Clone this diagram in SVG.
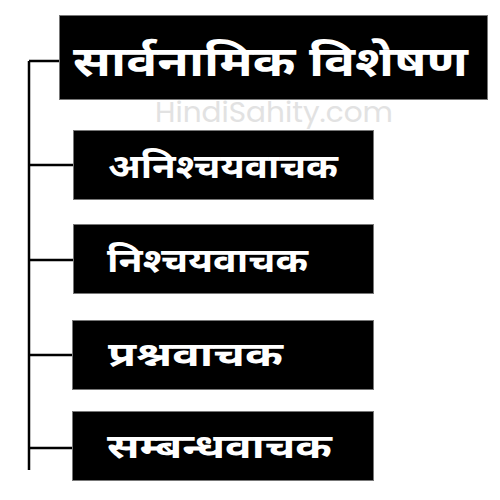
<svg xmlns="http://www.w3.org/2000/svg" width="500" height="500" viewBox="0 0 500 500">
<style>
.box{fill:#000;stroke:#777;stroke-width:1}
.lbl{fill:#fff;font-family:"Noto Sans","Noto Sans Devanagari",sans-serif;font-weight:700}
.wire{stroke:#000;stroke-width:2.5;fill:none}
</style>
<rect width="500" height="500" fill="#fff"/>
<g id="connectors">
<path class="wire" d="M29 61V470M29 61H60M29 165H74M29 260H74M29 355H73M29 448H73"/>
</g>
<text x="155" y="122" font-family="Poppins,'Noto Sans',sans-serif" font-size="28" fill="#e2e2e2" textLength="238" lengthAdjust="spacingAndGlyphs">HindiSahity.com</text>
<g id="n1">
<rect class="box" x="59.5" y="15.5" width="428" height="84"/>
<text class="lbl" x="73" y="76" font-size="42" textLength="395" lengthAdjust="spacingAndGlyphs">सार्वनामिक विशेषण</text>
</g>
<g id="n2">
<rect class="box" x="73.5" y="130.5" width="300" height="69"/>
<text class="lbl" x="108" y="178" font-size="34" textLength="230" lengthAdjust="spacingAndGlyphs">अनिश्चयवाचक</text>
</g>
<g id="n3">
<rect class="box" x="73.5" y="224.5" width="300" height="69"/>
<text class="lbl" x="107" y="272" font-size="34" textLength="201" lengthAdjust="spacingAndGlyphs">निश्चयवाचक</text>
</g>
<g id="n4">
<rect class="box" x="72.5" y="320.5" width="301" height="69"/>
<text class="lbl" x="108" y="366" font-size="34" textLength="175" lengthAdjust="spacingAndGlyphs">प्रश्नवाचक</text>
</g>
<g id="n5">
<rect class="box" x="72.5" y="411.5" width="301" height="69"/>
<text class="lbl" x="107" y="458" font-size="34" textLength="225" lengthAdjust="spacingAndGlyphs">सम्बन्धवाचक</text>
</g>
</svg>
